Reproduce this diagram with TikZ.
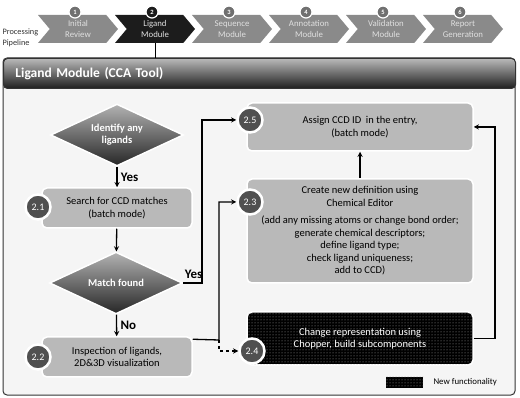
\documentclass[tikz,border=0pt]{standalone}
\usepackage{fontspec}
\setmainfont{Carlito}
\usetikzlibrary{shapes.geometric,shapes.symbols,patterns,positioning}

\definecolor{chevgray}{HTML}{8A8A8A}
\definecolor{numgray}{HTML}{707070}
\definecolor{activegray}{HTML}{1C1C1C}
\definecolor{boxgray}{HTML}{B9B9B9}
\definecolor{badgegray}{HTML}{505050}

\tikzset{
    chevron/.style={signal, signal to=east, signal from=west, signal pointer angle=100, minimum width=80pt, minimum height=28pt, inner sep=0pt, text=white!88!black, align=center, font=\fontsize{8.8}{10.5}\selectfont},
    stepnum/.style={circle, draw=white, line width=1.2pt, minimum size=12pt, inner sep=0pt, text=white, font=\fontsize{6.5}{6.5}\selectfont\bfseries},
    procbox/.style={rectangle, rounded corners=5pt, fill=boxgray, draw=white, line width=1.5pt, align=center, font=\fontsize{10.5}{12.5}\selectfont},
    newbox/.style={procbox, fill=black, text=white, postaction={pattern=dots, pattern color=gray!70}},
    decision/.style={diamond, aspect=2.15, minimum width=133pt, minimum height=62pt, inner sep=0pt, top color=gray!60, bottom color=black!85, draw=white, line width=1.5pt, text=white, align=center, font=\fontsize{10.5}{12}\selectfont\bfseries},
    badge/.style={circle, fill=badgegray, draw=white, line width=2.5pt, minimum size=25pt, inner sep=0pt, text=white, font=\fontsize{10}{10}\selectfont},
    flow/.style={->, >=stealth, line width=1.3pt},
    answer/.style={font=\fontsize{13}{13}\selectfont\bfseries}
}

\begin{document}
\begin{tikzpicture}[x=1pt, y=-1pt]
        \useasboundingbox (0,0) rectangle (520,398);
        \node[anchor=west, align=left, text=black!80, font=\fontsize{8.3}{10.5}\selectfont] (pipelabel) at (-1,38) {Processing\\Pipeline};
        \foreach \i/\x/\txt/\col/\ncol in {1/78/{Initial\\Review}/chevgray/numgray, 2/155/{Ligand\\Module}/activegray/activegray, 3/232/{Sequence\\Module}/chevgray/numgray, 4/309/{Annotation\\Module}/chevgray/numgray, 5/386/{Validation\\Module}/chevgray/numgray, 6/463/{Report\\Generation}/chevgray/numgray}{
                \node[chevron, fill=\col] (chev\i) at (\x,29) {\txt};
                \node[stepnum, fill=\ncol] (num\i) at (\x-3,12) {\i};
        }

        \node[draw=black!80, line width=1pt, rounded corners=4pt, fill=gray!8, minimum width=512pt, minimum height=337pt] (panel) at (259,226.5) {};
        \node[anchor=north west, draw=black!80, line width=1pt, rounded corners=4pt, top color=gray!55, bottom color=black!88, minimum width=512pt, minimum height=30pt, text width=488pt, inner xsep=12pt, align=left, text=white, font=\fontsize{13.5}{13.5}\selectfont\bfseries] (header) at (3,58) {Ligand Module (CCA Tool)};
        \draw[line width=1pt] (chev2.south) -- (chev2.south |- header.north);

        \node[decision] (ident) at (117,135) {Identify any\\ligands};
        \node[procbox, minimum width=150pt, minimum height=40pt] (box21) at (117,208) {Search for CCD matches\\(batch mode)};
        \node[decision] (match) at (116,283) {Match found};
        \node[procbox, minimum width=150pt, minimum height=40pt] (box22) at (117,357) {Inspection of ligands,\\2D\&3D visualization};

        \node[procbox, minimum width=226pt, minimum height=48pt] (box25) at (360,127) {Assign CCD ID\ \ in the entry,\\(batch mode)};
        \node[procbox, minimum width=226pt, minimum height=104pt] (box23) at (360,231) {Create new definition using\\Chemical Editor\\[5pt](add any missing atoms or change bond order;\\generate chemical descriptors;\\define ligand type;\\check ligand uniqueness;\\add to CCD)};
        \node[newbox, minimum width=226pt, minimum height=53pt] (box24) at (360,338.5) {Change representation using\\Chopper, build subcomponents};

        \node[badge] (badge21) at (38,207) {2.1};
        \node[badge] (badge22) at (38,357) {2.2};
        \node[badge] (badge25) at (250,120) {2.5};
        \node[badge] (badge23) at (250,202) {2.3};
        \node[badge] (badge24) at (252,351) {2.4};

        \coordinate (yesturn) at (202,283);
        \coordinate (split) at (219,340);
        \coordinate (rightturn) at (495,338.5);

        \draw[flow] (ident) -- node[answer, right] {Yes} (box21);
        \draw[flow] (box21) -- (match);
        \draw[flow] (match) -- node[answer, right] {No} (box22);
        \draw[flow] (match.east) -- node[answer, above, pos=0.55] {Yes} (yesturn) |- (badge25);
        \draw[flow] ([yshift=-3pt]box22.north east) -- (split) |- (badge23);
        \draw[flow, dashed] (split) |- (badge24);
        \draw[flow] (box23) -- (box25);
        \draw[flow] (box24.east) -- (rightturn) |- (box25.east);

        \node[newbox, rounded corners=0pt, line width=0pt, draw=none, minimum width=37pt, minimum height=11pt] (legbox) at (404.5,382.5) {};
        \node[right=7pt of legbox, font=\fontsize{8.8}{8.8}\selectfont] (legtext) {New functionality};
\end{tikzpicture}
\end{document}
